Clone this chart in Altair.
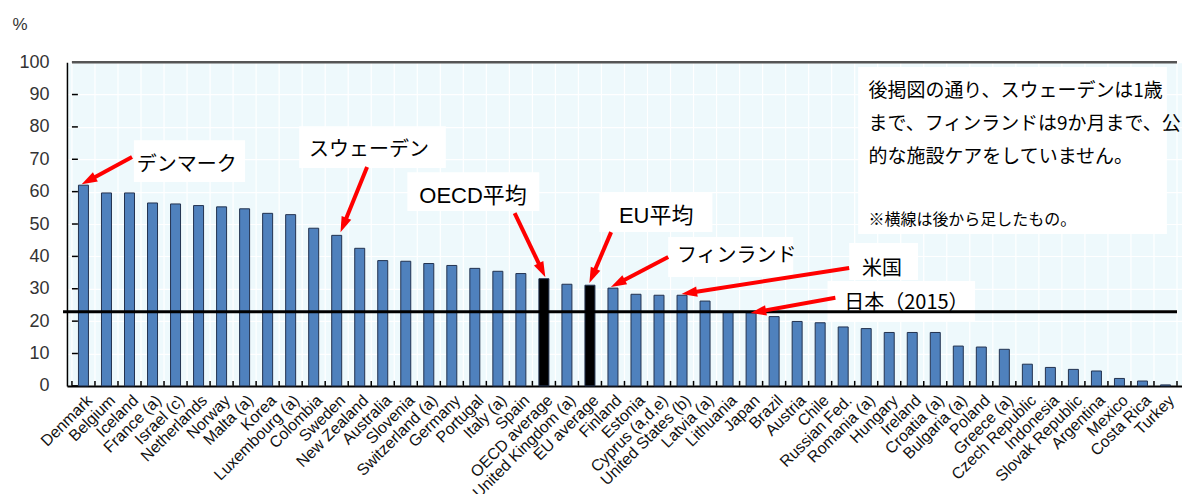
import json
import math
import altair as alt
import pandas as pd

# ---------------- data ----------------
COUNTRIES = [
    "Denmark", "Belgium", "Iceland", "France (a)", "Israel (c)", "Netherlands",
    "Norway", "Malta (a)", "Korea", "Luxembourg (a)", "Colombia", "Sweden",
    "New Zealand", "Australia", "Slovenia", "Switzerland (a)", "Germany",
    "Portugal", "Italy (a)", "Spain", "OECD average", "United Kingdom (a)",
    "EU average", "Finland", "Estonia", "Cyprus (a,d,e)", "United States (b)",
    "Latvia (a)", "Lithuania", "Japan", "Brazil", "Austria", "Chile",
    "Russian Fed.", "Romania (a)", "Hungary", "Ireland", "Croatia (a)",
    "Bulgaria (a)", "Poland", "Greece (a)", "Czech Republic", "Indonesia",
    "Slovak Republic", "Argentina", "Mexico", "Costa Rica", "Turkey",
]
VALUES = [
    62.0, 59.6, 59.6, 56.5, 56.2, 55.7, 55.3, 54.7, 53.3, 52.9,
    48.7, 46.5, 42.5, 38.7, 38.5, 37.8, 37.2, 36.3, 35.4, 34.7,
    33.1, 31.4, 31.1, 30.2, 28.3, 28.0, 28.0, 26.2, 22.8, 22.6,
    21.4, 19.9, 19.5, 18.2, 17.7, 16.5, 16.5, 16.5, 12.3, 12.0,
    11.3, 6.7, 5.7, 5.1, 4.6, 2.3, 1.5, 0.3,
]
AVERAGES = ["OECD average", "EU average"]
Y_TICKS = list(range(0, 101, 10))
REF_LINE = 22.9  # horizontal line added afterwards (Japan level)

# annotations (in data coordinates: x = category index, y = percent)
ANN_TEXT = ["デンマーク", "スウェーデン", "フィンランド", "米国", "日本（2015）"]
ANN_X = [2.32, 9.80, 25.78, 33.82, 33.05]
ANN_Y = [68.2, 72.8, 40.1, 36.1, 25.6]
AVG_TEXT = ["OECD平均", "EU平均"]
AVG_X = [14.59, 23.26]
AVG_Y = [58.6, 52.5]
TAIL_X = [2.11, 12.32, 18.73, 22.92, 25.40, 33.26, 32.66]
TAIL_Y = [70.7, 67.6, 53.4, 47.5, 39.8, 36.4, 27.2]
TIP_X = [-0.07, 11.17, 20.06, 21.98, 22.92, 25.99, 28.99]
TIP_Y = [62.3, 47.5, 33.6, 31.8, 30.6, 28.4, 22.5]
BOX_X0 = [2.19, 9.37, 14.07, 22.41, 25.40, 33.26, 32.32, 33.65]
BOX_X1 = [7.02, 15.74, 19.80, 27.32, 30.83, 36.25, 38.73, 47.06]
BOX_Y0 = [63.0, 67.3, 54.0, 47.5, 33.6, 32.7, 19.8, 46.9]
BOX_Y1 = [75.9, 80.2, 66.0, 59.9, 46.0, 44.1, 32.4, 98.5]

NOTE_LINES = ["後掲図の通り、スウェーデンは1歳", "まで、フィンランドは9か月まで、公", "的な施設ケアをしていません。"]
NOTE_Y = [91.0, 80.9, 70.7]
FOOT_TEXT = ["※横線は後から足したもの。"]
FOOT_Y = [51.2]
NOTE_X = 34.10

# ---------------- layout ----------------
N = len(COUNTRIES)
W, H = 1116, 324
PX_IDX = W / N
PX_VAL = H / 100.0
JP = "Noto Sans CJK JP"
LAT = "Liberation Sans"

bars = pd.DataFrame({
    "idx": list(range(N)),
    "country": COUNTRIES,
    "value": VALUES,
    "kind": ["avg" if c in AVERAGES else "country" for c in COUNTRIES],
})

bounds = [-0.5 + i for i in range(N + 1)]
vgrid = pd.DataFrame({"b": bounds})
xticks = pd.DataFrame({"b": bounds, "y0": [0] * len(bounds), "y1": [5 / PX_VAL] * len(bounds)})
yticks = pd.DataFrame({"v": Y_TICKS, "x0": [-0.5] * len(Y_TICKS), "x1": [-0.5 + 6 / PX_IDX] * len(Y_TICKS)})
frame_top = pd.DataFrame({"x0": [-0.5], "x1": [N - 0.5], "v": [100]})
refline = pd.DataFrame({"x0": [-0.5 - 9 / PX_IDX], "x1": [N - 0.5], "v": [REF_LINE]})

boxes = pd.DataFrame({"x0": BOX_X0, "x1": BOX_X1, "y0": BOX_Y0, "y1": BOX_Y1})
labels = pd.DataFrame({"t": ANN_TEXT, "x": ANN_X, "y": ANN_Y})
avg_labels = pd.DataFrame({"t": AVG_TEXT, "x": AVG_X, "y": AVG_Y})
notes = pd.DataFrame({"t": NOTE_LINES, "x": [NOTE_X] * len(NOTE_LINES), "y": NOTE_Y})
foot = pd.DataFrame({"t": FOOT_TEXT, "x": [NOTE_X], "y": FOOT_Y})

HEAD = 8.5
rows = []
for tx, ty, hx, hy in zip(TAIL_X, TAIL_Y, TIP_X, TIP_Y):
    dxp = (hx - tx) * PX_IDX
    dyp = -(hy - ty) * PX_VAL
    L = math.hypot(dxp, dyp)
    ux, uy = dxp / L, dyp / L
    cx = hx - ux * HEAD / PX_IDX
    cy = hy + uy * HEAD / PX_VAL
    ang = (math.degrees(math.atan2(dxp, -dyp)) + 360) % 360
    rows.append({"tx": tx, "ty": ty, "cx": cx, "cy": cy, "ang": ang})
arrows = pd.DataFrame(rows)

xscale = alt.Scale(domain=[-0.5, N - 0.5], nice=False, zero=False)
yscale = alt.Scale(domain=[0, 100], nice=False, zero=False)

label_expr = json.dumps(COUNTRIES, ensure_ascii=False) + "[round(datum.value)]"
xaxis = alt.Axis(
    values=list(range(N)), labelExpr=label_expr, labelAngle=-45, labelFontSize=16,
    labelFont=LAT, labelColor="#111111", ticks=False, grid=False, domain=True,
    domainColor="#000000", domainWidth=2, labelPadding=6, labelOverlap=False,
    labelFlush=False, title="",
)
yaxis = alt.Axis(
    values=Y_TICKS, labelFontSize=18, labelFont=LAT, labelColor="#333333",
    ticks=False, grid=True, gridColor="#FFFFFF", gridWidth=1.2, domain=True,
    domainColor="#000000", domainWidth=1.5, labelPadding=18,
    title="%", titleAngle=0, titleX=-55, titleY=-38, titleAlign="left",
    titleBaseline="middle", titleFontSize=17, titleFontWeight="normal",
    titleFont=LAT, titleColor="#333333",
)


def X(f):
    return alt.X(f, type="quantitative", scale=xscale, axis=xaxis)


def Y(f):
    return alt.Y(f, type="quantitative", scale=yscale, axis=yaxis)


grid_layer = alt.Chart(vgrid).mark_rule(color="#FFFFFF", strokeWidth=1.2).encode(
    x=X("b"), y=alt.value(0), y2=alt.value(H))

box_layer = alt.Chart(boxes).mark_rect(color="#FFFFFF").encode(
    x=X("x0"), x2="x1", y=Y("y0"), y2="y1")

bar_layer = alt.Chart(bars).mark_bar(size=10, orient="vertical", stroke="#22324F", strokeWidth=1).encode(
    x=X("idx"), y=Y("value"),
    color=alt.Color("kind:N", scale=alt.Scale(domain=["country", "avg"], range=["#4F81BD", "#000000"]), legend=None),
)

xtick_layer = alt.Chart(xticks).mark_rule(color="#000000", strokeWidth=1.5).encode(
    x=X("b"), y=Y("y0"), y2="y1")
ytick_layer = alt.Chart(yticks).mark_rule(color="#000000", strokeWidth=1.5).encode(
    x=X("x0"), x2="x1", y=Y("v"))
top_layer = alt.Chart(frame_top).mark_rule(color="#555555", strokeWidth=2.5).encode(
    x=X("x0"), x2="x1", y=Y("v"))

ref_layer = alt.Chart(refline).mark_rule(color="#000000", strokeWidth=3, clip=False).encode(
    x=X("x0"), x2="x1", y=Y("v"))

arrow_line = alt.Chart(arrows).mark_rule(color="#FF0000", strokeWidth=4).encode(
    x=X("tx"), x2="cx", y=Y("ty"), y2="cy")
arrow_head = alt.Chart(arrows).mark_point(
    shape="M0,-1L0.6,0.8L-0.6,0.8Z", size=300, filled=True, color="#FF0000", opacity=1, strokeWidth=0
).encode(x=X("cx"), y=Y("cy"), angle=alt.Angle("ang:Q", scale=alt.Scale(domain=[0, 360], range=[0, 360])))

label_layer = alt.Chart(labels).mark_text(align="left", baseline="middle", font=JP, fontSize=20, color="#000000").encode(
    x=X("x"), y=Y("y"), text="t:N")
avg_layer = alt.Chart(avg_labels).mark_text(
    align="left", baseline="middle", font=LAT + ", " + JP, fontSize=22, color="#000000"
).encode(x=X("x"), y=Y("y"), text="t:N")
note_layer = alt.Chart(notes).mark_text(align="left", baseline="middle", font=JP, fontSize=19, color="#000000").encode(
    x=X("x"), y=Y("y"), text="t:N")
foot_layer = alt.Chart(foot).mark_text(align="left", baseline="middle", font=JP, fontSize=16, color="#000000").encode(
    x=X("x"), y=Y("y"), text="t:N")

chart = alt.layer(
    grid_layer, box_layer, bar_layer, xtick_layer, ytick_layer, top_layer,
    ref_layer, arrow_line, arrow_head, label_layer, avg_layer, note_layer, foot_layer,
).properties(
    width=W, height=H,
    autosize=alt.AutoSizeParams(type="none"),
    padding={"left": 59, "top": 54, "right": 0, "bottom": 108},
    background="#FFFFFF",
).configure_view(fill="#EEF9FC", stroke="transparent")

chart.save("out.html", embed_options={"renderer": "svg", "actions": False})
